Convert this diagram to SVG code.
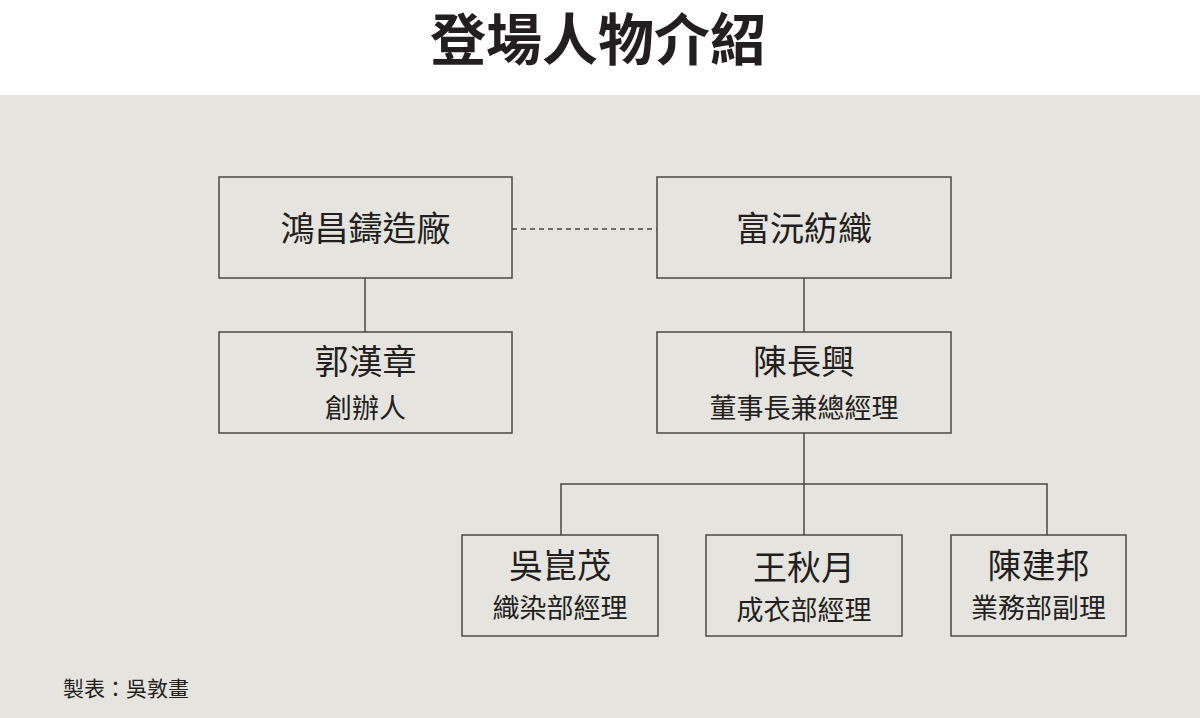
<svg xmlns="http://www.w3.org/2000/svg" width="1200" height="718" viewBox="0 0 1200 718">
<style>
.box{fill:#e6e4de;stroke:#4a4746;stroke-width:1.5}
.ln{stroke:#4a4746;stroke-width:1.5;fill:none}
text{font-family:"Noto Sans CJK TC","Noto Sans CJK SC",sans-serif;fill:#231f20;text-anchor:middle}
.t1{font-size:34px}
.nm{font-size:34px}
.rl{font-size:27px}
</style>
<rect x="0" y="0" width="1200" height="718" fill="#ffffff"/>
<rect x="0" y="95" width="1200" height="623" fill="#e6e4de"/>
<text x="598" y="60" style="font-size:56px;font-weight:bold">登場人物介紹</text>
<g id="connectors">
<line class="ln" x1="512" y1="229" x2="657" y2="229" stroke-dasharray="5,4"/>
<line class="ln" x1="365" y1="278" x2="365" y2="332"/>
<line class="ln" x1="804" y1="278" x2="804" y2="332"/>
<line class="ln" x1="804" y1="433" x2="804" y2="535"/>
<polyline class="ln" points="561,535 561,484 1047,484 1047,535"/>
</g>
<g id="hongchang"><rect class="box" x="219" y="177" width="293" height="101"/><text class="t1" x="365.5" y="241">鴻昌鑄造廠</text></g>
<g id="fuyuan"><rect class="box" x="657" y="177" width="294" height="101"/><text class="t1" x="804" y="241">富沅紡織</text></g>
<g id="guo"><rect class="box" x="219" y="332" width="293" height="101"/><text class="nm" x="365.5" y="374">郭漢章</text><text class="rl" x="365.5" y="418">創辦人</text></g>
<g id="chen"><rect class="box" x="657" y="332" width="294" height="101"/><text class="nm" x="804" y="374">陳長興</text><text class="rl" x="804" y="418">董事長兼總經理</text></g>
<g id="wu"><rect class="box" x="462" y="535" width="196" height="101"/><text class="nm" x="560" y="578">吳崑茂</text><text class="rl" x="560" y="618">織染部經理</text></g>
<g id="wang"><rect class="box" x="706" y="535" width="196" height="101"/><text class="nm" x="804" y="580">王秋月</text><text class="rl" x="804" y="620">成衣部經理</text></g>
<g id="chenjb"><rect class="box" x="951" y="535" width="175" height="101"/><text class="nm" x="1038.5" y="578">陳建邦</text><text class="rl" x="1038.5" y="618">業務部副理</text></g>
<text x="63" y="696" style="font-size:21px;text-anchor:start">製表：吳敦畫</text>
</svg>
